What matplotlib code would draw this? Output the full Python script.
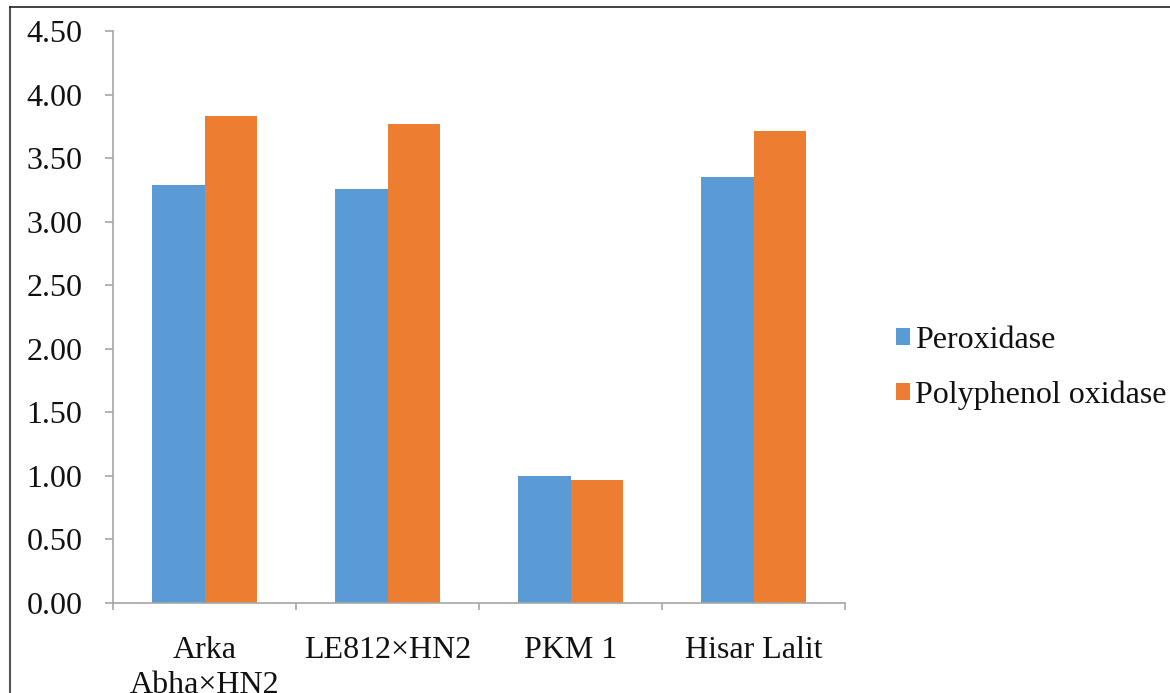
import matplotlib
matplotlib.use("Agg")
import matplotlib.pyplot as plt
from matplotlib.lines import Line2D
import numpy as np

categories = ["Arka\nAbha×HN2", "LE812×HN2", "PKM 1", "Hisar Lalit"]
peroxidase = [3.29, 3.26, 1.00, 3.35]
polyphenol_oxidase = [3.83, 3.77, 0.97, 3.71]
series_names = ["Peroxidase", "Polyphenol oxidase"]
yticks = [0.0, 0.5, 1.0, 1.5, 2.0, 2.5, 3.0, 3.5, 4.0, 4.5]

plt.rcParams['font.family'] = ['Liberation Serif', 'DejaVu Serif']

fig = plt.figure(figsize=(11.70, 6.93), dpi=100)
ax = fig.add_axes([113/1170, 1-603/693, (845-113)/1170, (603-31)/693])

x = np.arange(len(categories))
w = 0.287
ax.bar(x - w/2, peroxidase, w, color="#5B9BD5", label=series_names[0])
ax.bar(x + w/2, polyphenol_oxidase, w, color="#ED7D31", label=series_names[1])

ax.set_xlim(-0.5, len(categories) - 0.5)
ax.set_ylim(0, 4.5)
ax.set_yticks(yticks)
ax.set_yticklabels([f"{v:.2f}" for v in yticks], fontsize=23, color="#111111")
ax.set_xticks(x)
ax.set_xticklabels(categories, fontsize=23, linespacing=1.25, color="#111111")
ax.tick_params(axis='x', length=0, pad=24)
ax.set_xticks(np.arange(len(categories) + 1) - 0.5, minor=True)
ax.tick_params(axis='x', which='minor', length=5, color="#A6A6A6", width=1.2)
ax.tick_params(axis='y', length=6, color="#A6A6A6", width=1.2, pad=16)
for s in ["top", "right"]:
    ax.spines[s].set_visible(False)
for s in ["left", "bottom"]:
    ax.spines[s].set_color("#A6A6A6")
    ax.spines[s].set_linewidth(1.2)

ax.legend(loc="center left", bbox_to_anchor=(896/1170, 1-368/693), bbox_transform=fig.transFigure,
          frameon=False, fontsize=23, handlelength=0.45, handleheight=0.45,
          handletextpad=0.15, labelspacing=0.8, borderpad=0, borderaxespad=0,
          labelcolor="#111111")

fig.add_artist(Line2D([10/1170, 10/1170], [0, 1-7/693], transform=fig.transFigure, color="#555555", lw=1.5))
fig.add_artist(Line2D([10/1170, 1], [1-7/693, 1-7/693], transform=fig.transFigure, color="#222222", lw=1.2))

fig.savefig("out.png", dpi=100)
